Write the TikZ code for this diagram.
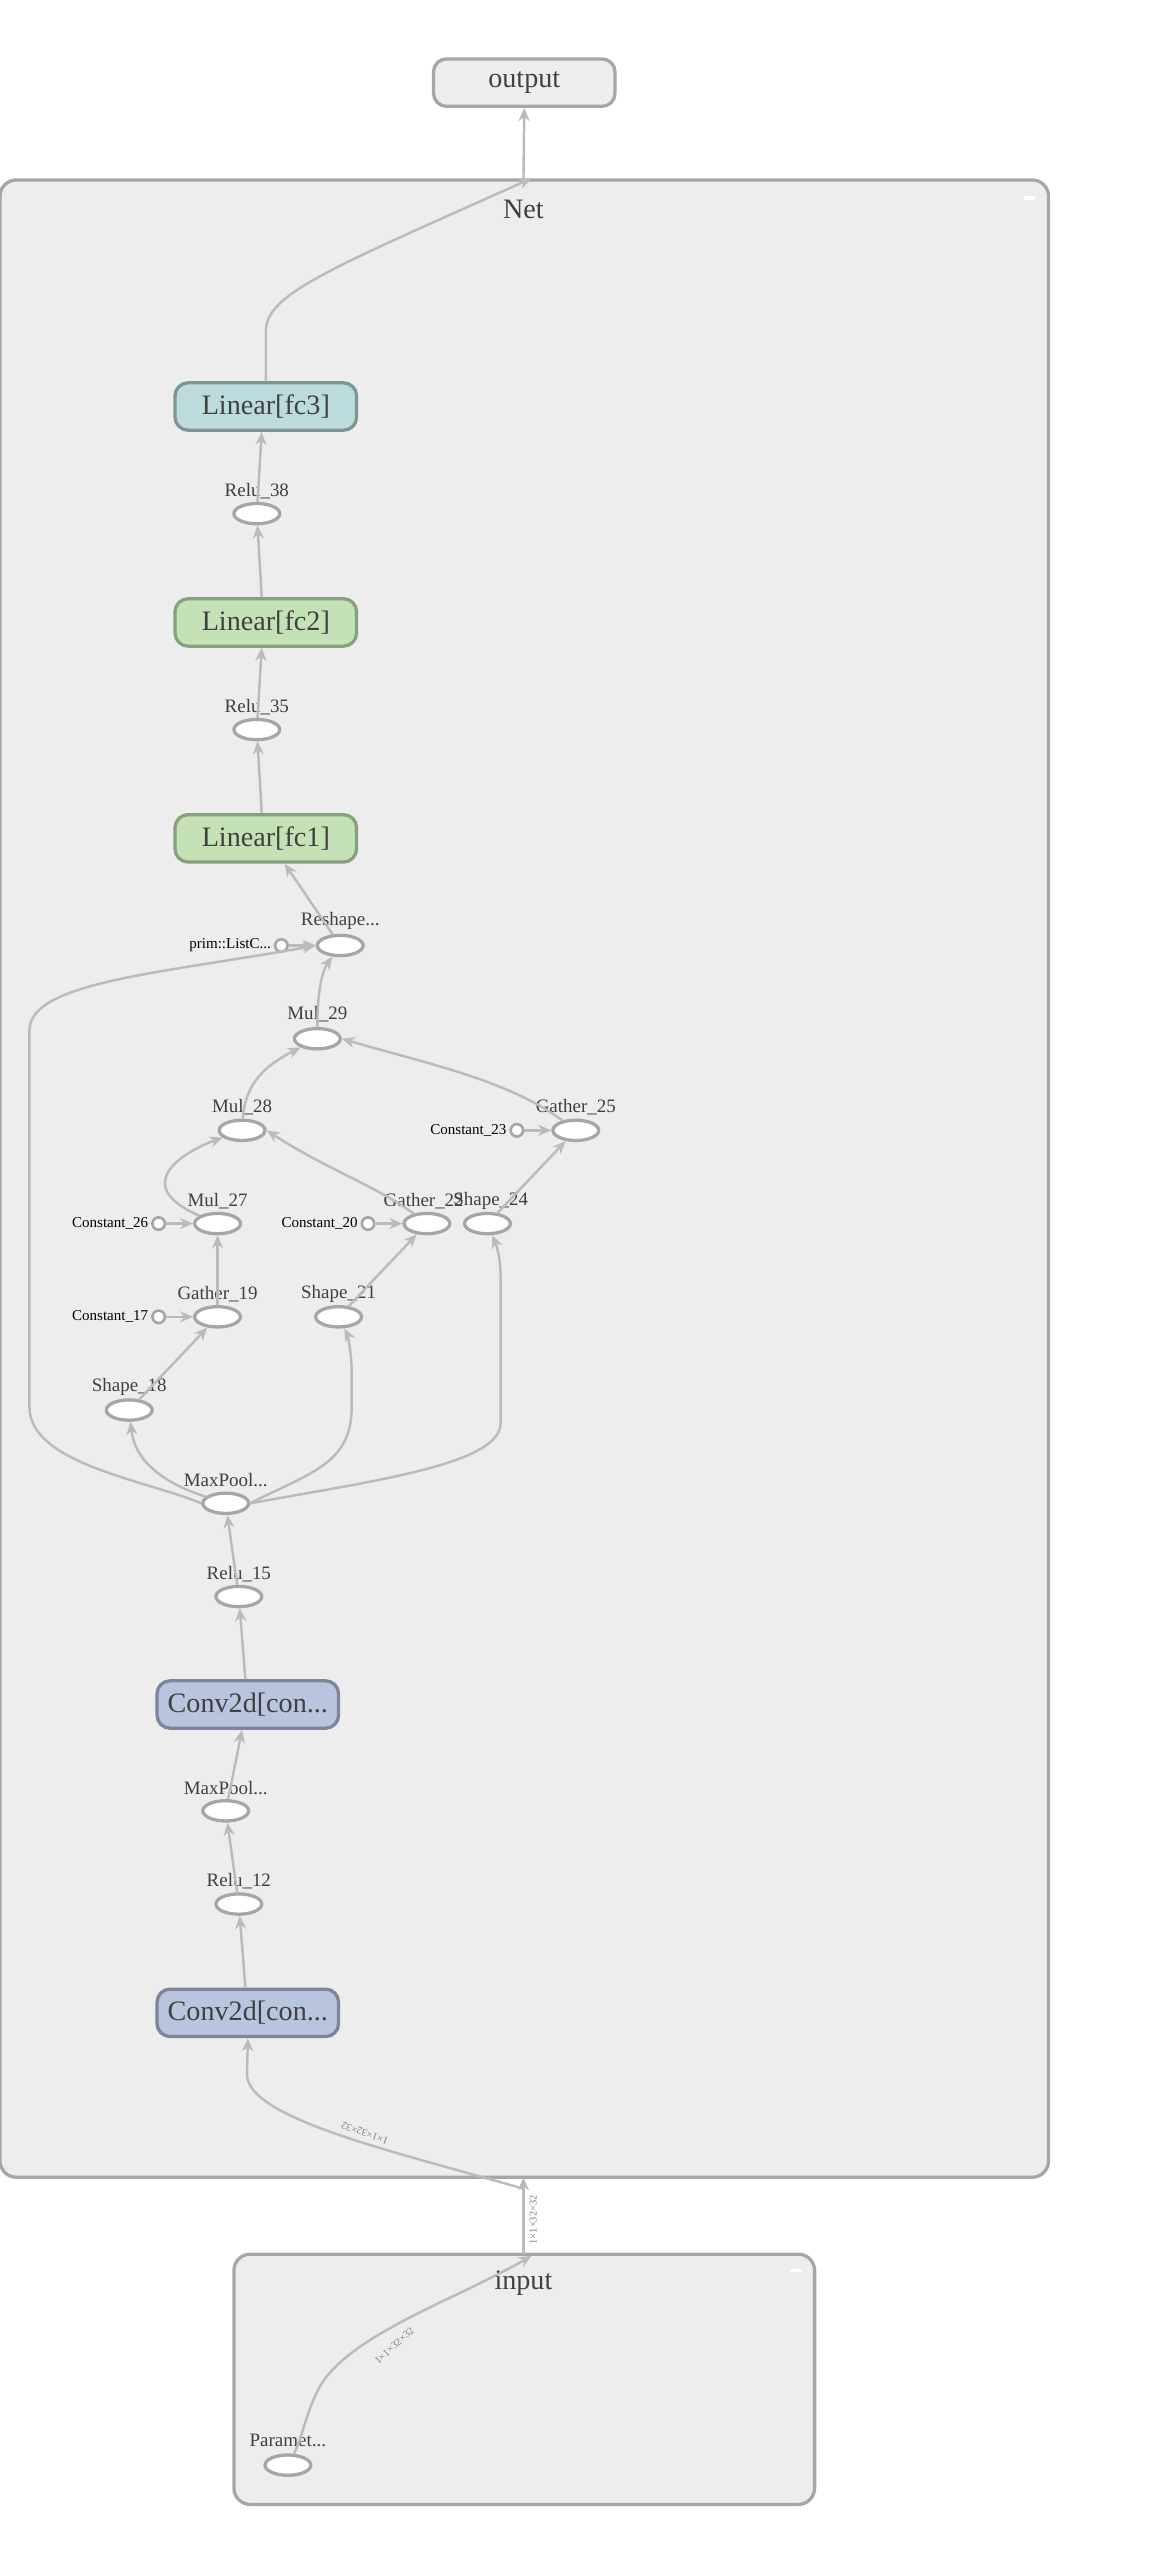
\documentclass[tikz,border=0pt]{standalone}
\usepackage{fontspec}
\setmainfont{Liberation Serif}
\usetikzlibrary{shapes.geometric,arrows.meta}
\definecolor{boxfill}{HTML}{EDEDED}
\definecolor{boxline}{HTML}{A6A6A6}
\definecolor{edge}{HTML}{BBBBBB}
\definecolor{txt}{HTML}{404040}
\definecolor{fcthree}{HTML}{BCDBDC}
\definecolor{fcthreeL}{HTML}{7F9595}
\definecolor{fclin}{HTML}{C5E2B7}
\definecolor{fclinL}{HTML}{88A080}
\definecolor{conv}{HTML}{B9C4DE}
\definecolor{convL}{HTML}{7D8598}
\begin{document}
\begin{tikzpicture}[x=0.5pt,y=-0.5pt,
  grp/.style={draw=boxline,line width=1pt,fill=boxfill,rounded corners=5pt},
  op/.style={ellipse,draw=boxline,line width=1pt,fill=white,minimum width=14pt,minimum height=6.2pt,inner sep=0pt},
  cst/.style={circle,draw=boxline,line width=0.8pt,fill=white,minimum size=3.8pt,inner sep=0pt},
  lab/.style={font=\fontsize{5.8}{6}\selectfont,text=txt,inner sep=0pt},
  clab/.style={font=\fontsize{4.6}{5}\selectfont,text=black,inner sep=0pt,anchor=east},
  mod/.style={draw,line width=1pt,rounded corners=4pt,minimum width=55.5pt,minimum height=14.5pt,font=\fontsize{8.6}{9}\selectfont,text=txt,inner sep=0pt},
  e/.style={draw=edge,line width=0.75pt,-{Stealth[length=4pt,width=3.4pt]}},
  elab/.style={font=\fontsize{3.2}{3.4}\selectfont,text=gray,inner sep=0pt}]
\useasboundingbox (0,0) rectangle (714,1565);
% groups
\path[grp] (0,110) rectangle (641,1331);
\path[grp] (143,1378) rectangle (498,1531);
\node[font=\fontsize{8.6}{9}\selectfont,text=txt] (netT) at (320,128) {Net};
\node[font=\fontsize{8.6}{9}\selectfont,text=txt] (inT) at (320,1396) {input};
\draw[white,line width=1pt] (626,121) -- (633,121);
\draw[white,line width=1pt] (483,1388) -- (490,1388);
\coordinate (netTop) at (320,110);
\coordinate (netTop2) at (325,109);
\coordinate (netBot) at (320,1331);
\coordinate (netBot2) at (320,1338);
\coordinate (inTop) at (320,1378);
\coordinate (inTop2) at (325,1379);
% output
\node[mod,draw=boxline,fill=boxfill] (out) at (320.5,50.5) {output};
% modules
\node[mod,draw=fcthreeL,fill=fcthree] (fc3) at (162.5,248.5) {Linear[fc3]};
\node[mod,draw=fclinL,fill=fclin] (fc2) at (162.5,380.5) {Linear[fc2]};
\node[mod,draw=fclinL,fill=fclin] (fc1) at (162.5,512.5) {Linear[fc1]};
\node[mod,draw=convL,fill=conv] (conv2) at (151.5,1042) {Conv2d[con...};
\node[mod,draw=convL,fill=conv] (conv1) at (151.5,1230.5) {Conv2d[con...};
% ops
\node[op] (relu38) at (157,314) {};   \node[lab] (lrelu38) at (157,300) {Relu\_38};
\node[op] (relu35) at (157,446) {};   \node[lab] (lrelu35) at (157,432) {Relu\_35};
\node[op] (resh) at (208,578) {};     \node[lab] (lresh) at (208,563) {Reshape...};
\node[cst] (prim) at (172,578) {};    \node[clab] (lprim) at (166,578) {prim::ListC...};
\node[op] (mul29) at (194,635) {};    \node[lab] (lmul29) at (194,620) {Mul\_29};
\node[op] (mul28) at (148,691) {};    \node[lab] (lmul28) at (148,677) {Mul\_28};
\node[op] (g25) at (352,691) {};      \node[lab] (lg25) at (352,677) {Gather\_25};
\node[cst] (c23) at (316,691) {};     \node[clab] (lc23) at (310,691) {Constant\_23};
\node[op] (mul27) at (133,748) {};    \node[lab] (lmul27) at (133,734) {Mul\_27};
\node[cst] (c26) at (97,748) {};      \node[clab] (lc26) at (91,748) {Constant\_26};
\node[op] (g22) at (261,748) {};      \node[lab] (lg22) at (259,734) {Gather\_22};
\node[cst] (c20) at (225,748) {};     \node[clab] (lc20) at (219,748) {Constant\_20};
\node[op] (s24) at (298,748) {};      \node[lab] (ls24) at (300,734) {Shape\_24};
\node[op] (g19) at (133,805) {};      \node[lab] (lg19) at (133,791) {Gather\_19};
\node[cst] (c17) at (97,805) {};      \node[clab] (lc17) at (91,805) {Constant\_17};
\node[op] (s21) at (207,805) {};      \node[lab] (ls21) at (207,791) {Shape\_21};
\node[op] (s18) at (79,862) {};       \node[lab] (ls18) at (79,848) {Shape\_18};
\node[op] (mp2) at (138,919) {};      \node[lab] (lmp2) at (138,905) {MaxPool...};
\node[op] (relu15) at (146,976) {};   \node[lab] (lrelu15) at (146,962) {Relu\_15};
\node[op] (mp1) at (138,1107) {};     \node[lab] (lmp1) at (138,1093) {MaxPool...};
\node[op] (relu12) at (146,1164) {};  \node[lab] (lrelu12) at (146,1150) {Relu\_12};
\node[op] (param) at (176,1507) {};   \node[lab] (lparam) at (176,1492) {Paramet...};
% edges
\draw[e] (netTop) -- (out.south);
\draw[e] (fc3.north) -- ++(0,-30) .. controls (162,180) and (200,165) .. (netTop2);
\draw[e] (relu38) -- (fc3.south -| 160,0);
\draw[e] (fc2.north -| 160,0) -- (relu38);
\draw[e] (relu35) -- (fc2.south -| 160,0);
\draw[e] (fc1.north -| 160,0) -- (relu35);
\draw[e] (resh) -- (fc1.south -| 174,0);
\draw[e] (mul29) .. controls (194,610) and (196,595) .. (resh);
\draw[e] (prim) -- (resh);
\draw[e] (mp2.west) .. controls (90,905) and (18,895) .. (18,860) -- (18,630) .. controls (18,600) and (100,595) .. (resh.west);
\draw[e] (mul28) .. controls (150,660) and (165,650) .. (mul29);
\draw[e] (g25) .. controls (310,660) and (260,650) .. (mul29.east);
\draw[e] (mul27) .. controls (80,725) and (110,705) .. (mul28);
\draw[e] (g22) .. controls (230,725) and (200,715) .. (mul28.east);
\draw[e] (c23) -- (g25);
\draw[e] (s24) -- (g25);
\draw[e] (c26) -- (mul27);
\draw[e] (g19) -- (mul27);
\draw[e] (c20) -- (g22);
\draw[e] (s21) -- (g22);
\draw[e] (c17) -- (g19);
\draw[e] (s18) -- (g19);
\draw[e] (mp2) .. controls (95,905) and (82,890) .. (s18);
\draw[e] (mp2.east) .. controls (190,900) and (215,895) .. (215,860) -- (215,840) .. controls (215,825) and (212,815) .. (s21);
\draw[e] (mp2.east) .. controls (230,905) and (306,895) .. (306,870) -- (306,780) .. controls (306,768) and (303,760) .. (s24);
\draw[e] (relu15) -- (mp2);
\draw[e] (conv2.north -| 150,0) -- (relu15);
\draw[e] (mp1) -- (conv2.south -| 148,0);
\draw[e] (relu12) -- (mp1);
\draw[e] (conv1.north -| 150,0) -- (relu12);
\draw[e] (netBot2) .. controls (240,1315) and (151,1295) .. (151,1268) -- (conv1.south);
\node[elab,rotate=160] (l1) at (223,1304) {1×1×32×32};
\draw[e] (inTop) -- (netBot);
\node[elab,rotate=90] (l2) at (326,1357) {1×1×32×32};
\draw[e] (param) .. controls (185,1490) and (188,1470) .. (198,1455) .. controls (220,1425) and (280,1405) .. (inTop2);
\node[elab,rotate=42] (l3) at (241,1434) {1×1×32×32};
\end{tikzpicture}
\end{document}
